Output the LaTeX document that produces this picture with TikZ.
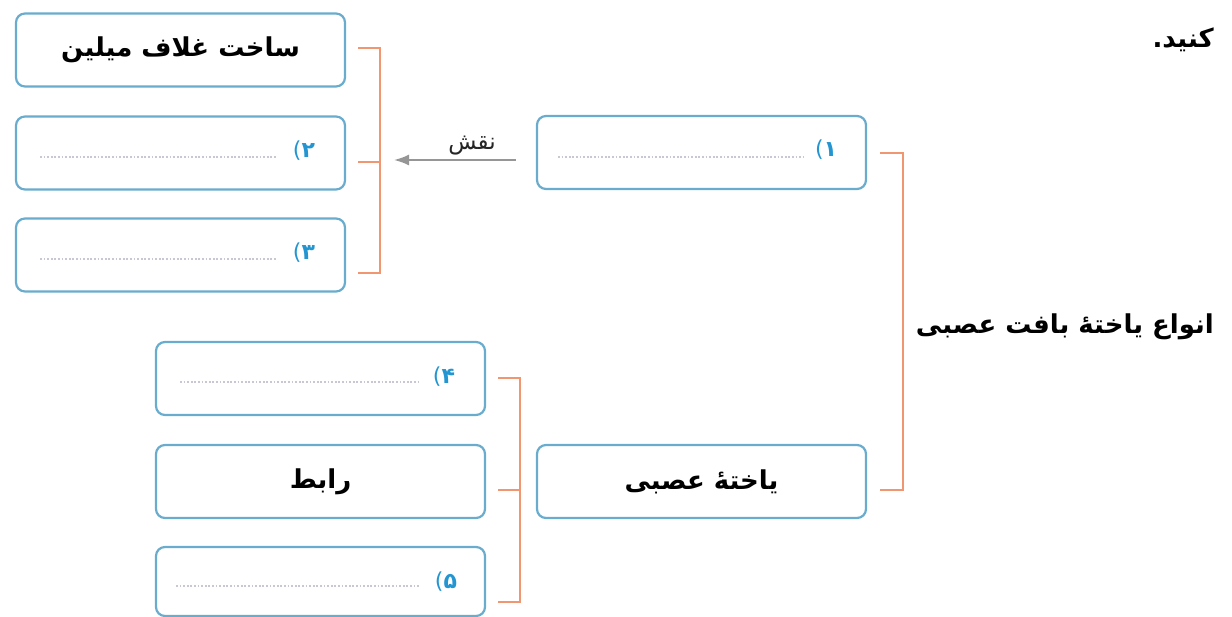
\documentclass[tikz,border=0pt]{standalone}
\usepackage{fontspec}
\usetikzlibrary{arrows.meta}
\TeXXeTstate=1
\newfontfamily\arabicfont[Script=Arabic]{DejaVu Sans}
\newfontfamily\plainsans{DejaVu Sans}
\definecolor{boxblue}{RGB}{105,172,205}
\definecolor{brk}{RGB}{240,150,112}
\definecolor{numblue}{RGB}{35,150,210}
\definecolor{arrgray}{RGB}{150,150,150}
\definecolor{dotgray}{RGB}{200,200,212}
\newcommand{\numtag}[1]{{\plainsans(}{\arabicfont\bfseries #1}}
\tikzset{
  cardbox/.style={draw=boxblue, line width=2.2pt, rounded corners=9pt, fill=white,
    minimum width=329pt, minimum height=73pt, inner sep=0pt},
  bracketline/.style={draw=brk, line width=1.6pt},
  numlabel/.style={text=numblue, font=\fontsize{22}{26}\selectfont, inner sep=0pt},
  fatext/.style={font=\arabicfont\bfseries\fontsize{26}{30}\selectfont, inner sep=0pt},
  dotline/.style={draw=dotgray, line width=1.6pt, dash pattern=on 1.8pt off 1.8pt},
  grayarrow/.style={draw=arrgray, line width=1.8pt, -{Latex[length=15pt,width=11pt]}}
}
\begin{document}
\begin{tikzpicture}[x=1pt,y=-1pt]
\useasboundingbox (0,0) rectangle (1232,617);
% left column boxes
\node[cardbox] (b1) at (180.5,50) {};
\node[fatext] (t1) at (b1.center) {\beginR ساخت غلاف میلین\endR};
\node[cardbox] (b2) at (180.5,153) {};
\node[cardbox] (b3) at (180.5,255) {};
\draw[dotline] (40,157) -- (277,157);
\node[numlabel] (l2) at (304,151) {\numtag{۲}};
\draw[dotline] (40,259) -- (277,259);
\node[numlabel] (l3) at (304,253) {\numtag{۳}};
% left bracket
\draw[bracketline] (358,48) -- (380,48) -- (380,273) -- (358,273);
\draw[bracketline] (358,162) -- (380,162);
\coordinate (lbm) at (380,160);
% box 1
\node[cardbox] (n1) at (701.5,152.5) {};
\draw[dotline] (558,157) -- (804,157);
\node[numlabel] (l1) at (826,150) {\numtag{۱}};
\draw[grayarrow, shorten <=20pt, shorten >=14pt] (n1.west |- lbm) -- (lbm);
\node[font=\arabicfont\fontsize{23}{26}\selectfont, text=black!85, inner sep=0pt] (role) at (472,146) {\beginR نقش\endR};
% neuron box
\node[cardbox] (n2) at (701.5,481.5) {};
\node[fatext] (t2) at (n2.center) {\beginR یاختهٔ عصبی\endR};
% right bracket
\draw[bracketline] (880,153) -- (903,153) -- (903,490) -- (880,490);
\node[fatext, anchor=east] (title) at (1214,327) {\beginR انواع یاختهٔ بافت عصبی\endR};
\node[fatext, anchor=east] (top) at (1214,40) {\beginR کنید.\endR};
% bottom boxes
\node[cardbox] (b4) at (320.5,378.5) {};
\draw[dotline] (180,382) -- (420,382);
\node[numlabel] (l4) at (444,377) {\numtag{۴}};
\node[cardbox] (b5) at (320.5,481.5) {};
\node[fatext] (t5) at (b5.center) {\beginR رابط\endR};
\node[cardbox, minimum height=69pt] (b6) at (320.5,581.5) {};
\draw[dotline] (176,586) -- (420,586);
\node[numlabel] (l5) at (446,582) {\numtag{۵}};
% bottom bracket
\draw[bracketline] (498,378) -- (520,378) -- (520,602) -- (498,602);
\draw[bracketline] (498,490) -- (520,490);
\end{tikzpicture}
\end{document}
